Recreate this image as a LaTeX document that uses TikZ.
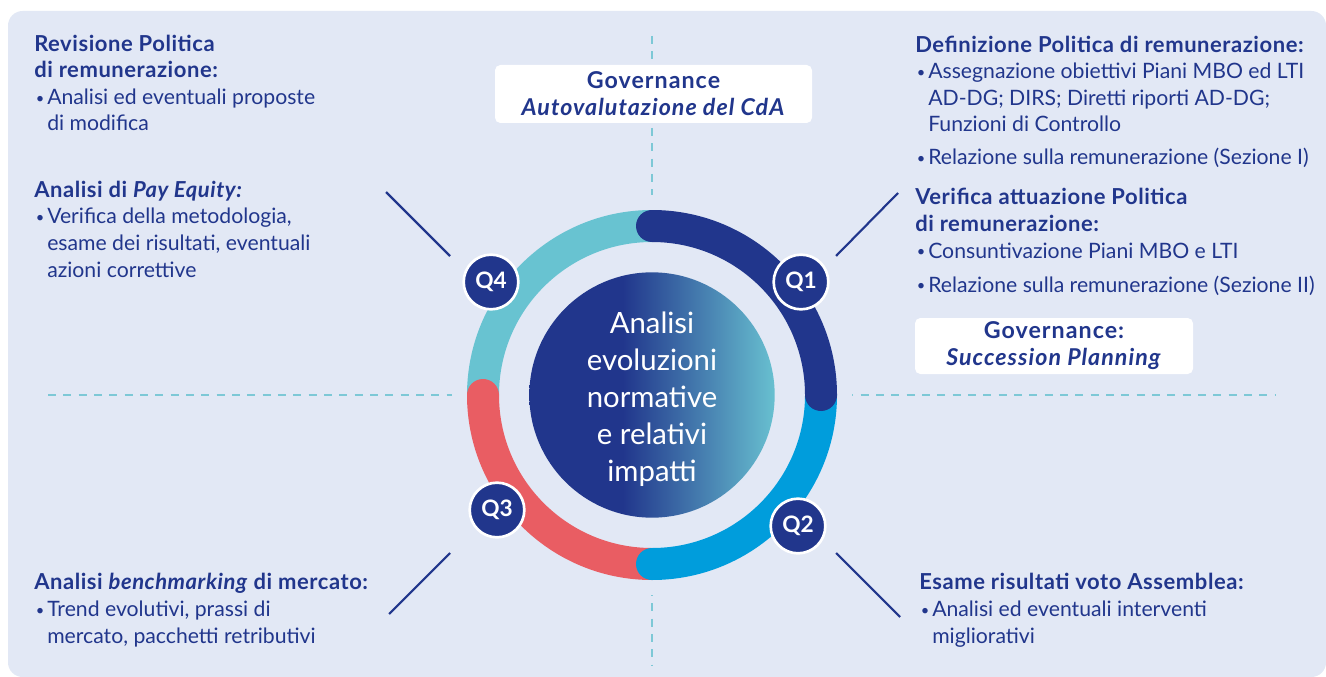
\documentclass[tikz,border=0pt]{standalone}
\usepackage{fontspec}
\setmainfont{Lato}
\definecolor{navy}{RGB}{33,54,140}
\definecolor{bgpanel}{RGB}{226,232,245}
\definecolor{qteal}{RGB}{104,195,209}
\definecolor{qred}{RGB}{233,93,99}
\definecolor{qblue}{RGB}{0,157,220}
\definecolor{dashc}{RGB}{125,200,214}
\definecolor{discteal}{RGB}{104,192,208}
\pgfdeclarehorizontalshading{discshade}{100bp}{color(0bp)=(navy); color(44bp)=(navy); color(75bp)=(discteal); color(100bp)=(discteal)}
\newcommand{\bul}{\makebox[9.75pt][l]{\hspace{1.2pt}\fontsize{11}{11}\selectfont\raisebox{1pt}{•}}}
\newcommand{\ind}{\hspace*{9.75pt}}
\newcommand{\hd}[1]{{\fontsize{16.5}{19.9}\selectfont\bfseries\addfontfeature{LetterSpace=2.5}#1}}
\begin{document}
\begin{tikzpicture}[x=0.75pt,y=0.75pt,
  txt/.style={inner sep=0pt, align=left, text=navy, font=\fontsize{15.9}{19.9}\selectfont},
  govbox/.style={fill=white, rounded corners=4pt, inner sep=0pt, align=center, text=navy, font=\bfseries\fontsize{17.4}{20.2}\selectfont\addfontfeature{LetterSpace=4.5}},
  badge/.style={circle, fill=navy, draw=white, line width=2pt, minimum size=41pt, inner sep=0pt, text=white, font=\bfseries\fontsize{17}{17}\selectfont},
  conn/.style={draw=navy, line width=1.6pt},
  dashln/.style={draw=dashc, line width=1.4pt, dash pattern=on 6pt off 5.5pt},
  seg/.style={line width=24pt, line cap=round}]
\useasboundingbox (0,0) rectangle (1326,-677);
\fill[white] (0,0) rectangle (1326,-677);
\fill[bgpanel, rounded corners=11pt] (8,-11) rectangle (1326,-677);
% dashed axes
\coordinate (vtop) at (652,-36);
\coordinate (vbot) at (652,-665);
\coordinate (hl) at (48,-395);
\coordinate (hr) at (1275,-395);
\draw[dashln] (vtop) -- (vbot);
\draw[dashln] (hl) -- (hr);
\coordinate (c) at (652,-395);
\fill[bgpanel] (c) circle[radius=150pt];
% ring
\draw[seg, qteal, line cap=butt] (c) ++(180:126.75pt) arc[start angle=180, end angle=90, radius=126.75pt];
\draw[seg, qred] (c) ++(270:126.75pt) arc[start angle=270, end angle=180, radius=126.75pt];
\draw[seg, qblue] (c) ++(0:126.75pt) arc[start angle=360, end angle=270, radius=126.75pt];
\draw[seg, navy] (c) ++(90:126.75pt) arc[start angle=90, end angle=0, radius=126.75pt];
% disc
\node[circle, minimum size=184pt, inner sep=0pt, shading=discshade] (disc) at (c) {};
\node[inner sep=0pt, text=white, align=center, font=\fontsize{22}{27.75}\selectfont] (disclbl) at ([yshift=-3pt]disc.center) {Analisi\\evoluzioni\\normative\\e relativi\\impatti};
% badges
\node[badge] (q1) at (801,-282) {Q1};
\node[badge] (q2) at (798,-526) {Q2};
\node[badge] (q3) at (497,-510) {Q3};
\node[badge] (q4) at (491,-282) {Q4};
% connectors
\coordinate (l4a) at (386,-192); \coordinate (l4b) at (450,-256);
\coordinate (l1a) at (836,-256); \coordinate (l1b) at (898,-193);
\coordinate (l3a) at (450,-553); \coordinate (l3b) at (389,-614);
\coordinate (l2a) at (836,-553); \coordinate (l2b) at (900,-617);
\draw[conn] (l4a) -- (l4b);
\draw[conn] (l1a) -- (l1b);
\draw[conn] (l3a) -- (l3b);
\draw[conn] (l2a) -- (l2b);
% governance boxes
\node[govbox, minimum width=237.75pt, minimum height=43.5pt] (gov1) at (653.5,-94) {Governance\\\textit{Autovalutazione del CdA}};
\node[govbox, minimum width=208.5pt, minimum height=42pt] (gov2) at (1054,-346) {Governance:\\\textit{Succession Planning}};
% text blocks (anchored at the baseline of their last line)
\node[txt, anchor=base west] (tl1) at (34,-131) {\hd{Revisione Politica}\\\hd{di remunerazione:}\\\bul Analisi ed eventuali proposte\\\ind di modifica};
\node[txt, anchor=base west] (tl2) at (34,-277) {\hd{Analisi di \textit{Pay Equity:}}\\\bul Verifica della metodologia,\\\ind esame dei risultati, eventuali\\\ind azioni correttive};
\node[txt, anchor=base west] (tr1) at (915,-165) {\hd{Definizione Politica di remunerazione:}\\\bul Assegnazione obiettivi Piani MBO ed LTI\\\ind AD-DG; DIRS; Diretti riporti AD-DG;\\\ind Funzioni di Controllo\\[4.9pt]\bul Relazione sulla remunerazione (Sezione I)};
\node[txt, anchor=base west] (tr2) at (915,-292) {\hd{Verifica attuazione Politica}\\\hd{di remunerazione:}\\\bul Consuntivazione Piani MBO e LTI\\[5.6pt]\bul Relazione sulla remunerazione (Sezione II)};
\node[txt, anchor=base west] (bl) at (34,-643) {\hd{Analisi \textit{benchmarking} di mercato:}\\\bul Trend evolutivi, prassi di\\\ind mercato, pacchetti retributivi};
\node[txt, anchor=base west] (br) at (919,-643) {\hd{Esame risultati voto Assemblea:}\\\bul Analisi ed eventuali interventi\\\ind migliorativi};
\end{tikzpicture}
\end{document}
